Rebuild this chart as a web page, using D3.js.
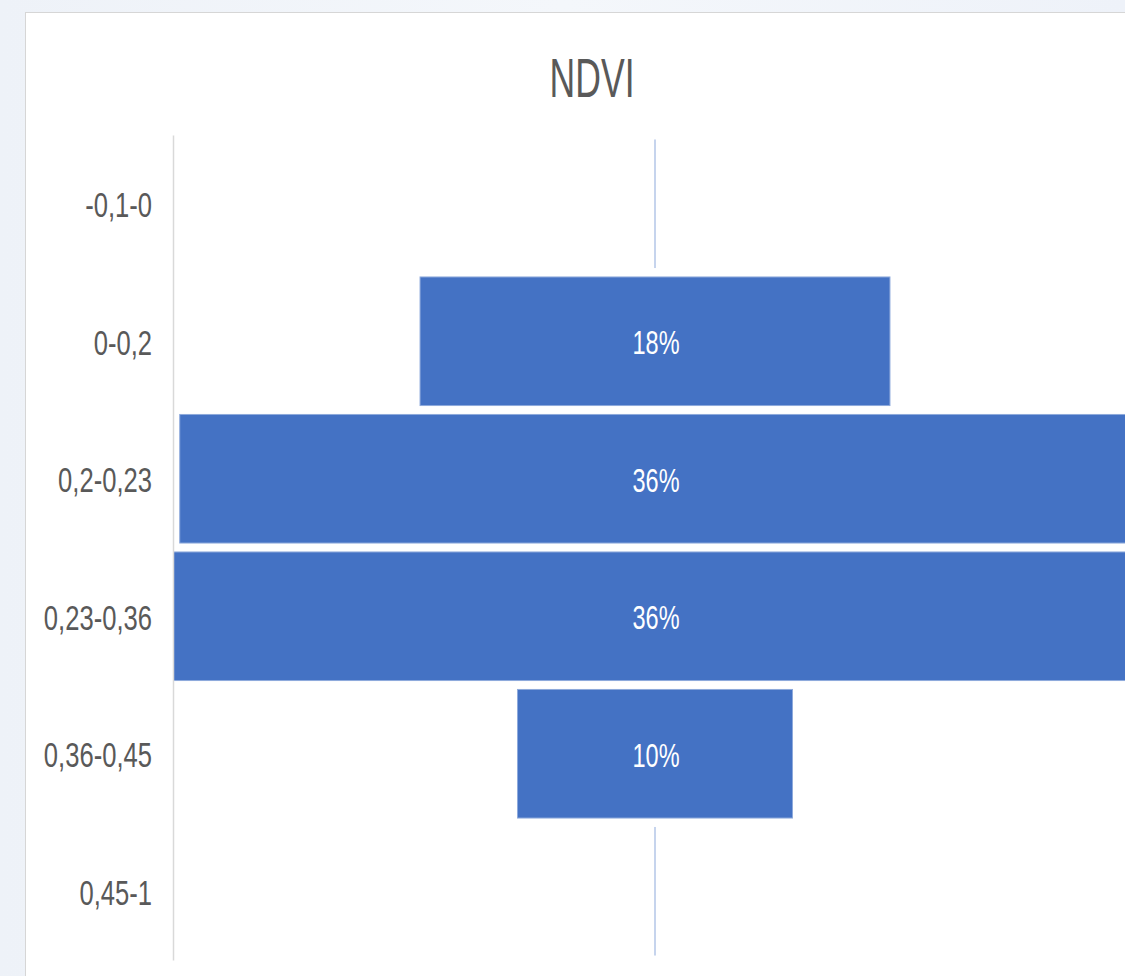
<!DOCTYPE html>
<html>
<head>
<meta charset="utf-8">
<script src="https://cdn.jsdelivr.net/npm/d3@7"></script>
<style>
  html, body { margin: 0; padding: 0; }
  body { width: 1125px; height: 976px; overflow: hidden; background: linear-gradient(90deg, #eef2f8, #f4f7fb 50%, #eef2f9); }
</style>
</head>
<body>
<svg id="chart" width="1125" height="976"></svg>
<script>
// NDVI funnel, share of area per class
const categories = ["-0,1-0", "0-0,2", "0,2-0,23", "0,23-0,36", "0,36-0,45", "0,45-1"]
const shares = [0, 0.176, 0.356, 0.362, 0.103, 0]
const TITLE = "NDVI"

const svg = d3.select("#chart")
const WIDTH = +svg.attr("width")
const HEIGHT = +svg.attr("height")
const CX = 655
const AXIS_X = 173
const BLUE = "#4472c4"
const EDGE = "#8eaadc"
const GREY_TXT = "#595959"

// white chart panel (extends past the right/bottom of the picture)
svg.append("rect")
    .attr("x", 25.5).attr("y", 12.5)
    .attr("width", WIDTH).attr("height", HEIGHT)
    .style("fill", "#fff")
    .style("stroke", "#d6d6d6")

// stretched text helper: picture is taller than normal glyphs
let addText = (g, str, x, y, size, sy, color, anchor) => {
    g.append("text")
        .attr("transform", `translate(${x},${y}) scale(1,${sy})`)
        .attr("dy", "0.36em")
        .style("font-family", "'Liberation Sans', Arial, sans-serif")
        .style("font-size", size + "px")
        .style("fill", color)
        .style("text-anchor", anchor)
        .text(str)
}

let y = d3.scaleBand()
    .domain(categories)
    .range([135, 960])
    .paddingInner(0.065)
    .paddingOuter(0.0325)

let w = d3.scaleLinear().domain([0, 1]).range([0, 2670])
const fmt = d3.format(".0%")

svg.append("defs").append("clipPath").attr("id", "plotclip")
    .append("rect").attr("x", AXIS_X).attr("y", 0).attr("width", WIDTH).attr("height", HEIGHT)

// zero values still show as a thin line at the centre
let bars = svg.append("g").attr("clip-path", "url(#plotclip)")
bars.selectAll("rect")
    .data(categories.map((c, i) => ({c: c, v: shares[i]})))
    .join("rect")
    .attr("x", d => CX - Math.max(w(d.v), 1) / 2)
    .attr("y", d => y(d.c))
    .attr("width", d => Math.max(w(d.v), 1))
    .attr("height", y.bandwidth())
    .style("fill", d => d.v > 0 ? BLUE : EDGE)
    .style("stroke", d => d.v > 0 ? EDGE : "none")
    .style("stroke-width", 1)

// y axis (category labels, no ticks)
let axis = svg.append("g")
    .attr("transform", `translate(${AXIS_X},0)`)
    .call(d3.axisLeft(y).tickSize(0).tickFormat(""))
axis.select(".domain").style("stroke", "#d9d9d9").style("stroke-width", 1.5)
categories.forEach(c => addText(svg, c, AXIS_X - 21, y(c) + y.bandwidth() / 2 + 1, 25.6, 1.37, GREY_TXT, "end"))

// value labels
categories.forEach((c, i) => {
    if (shares[i] > 0) addText(svg, fmt(shares[i]), CX + 1, y(c) + y.bandwidth() / 2 + 1, 23.5, 1.43, "#fff", "middle")
})

// title
addText(svg, TITLE, 592, 77, 35.6, 1.58, GREY_TXT, "middle")
</script>
</body>
</html>
